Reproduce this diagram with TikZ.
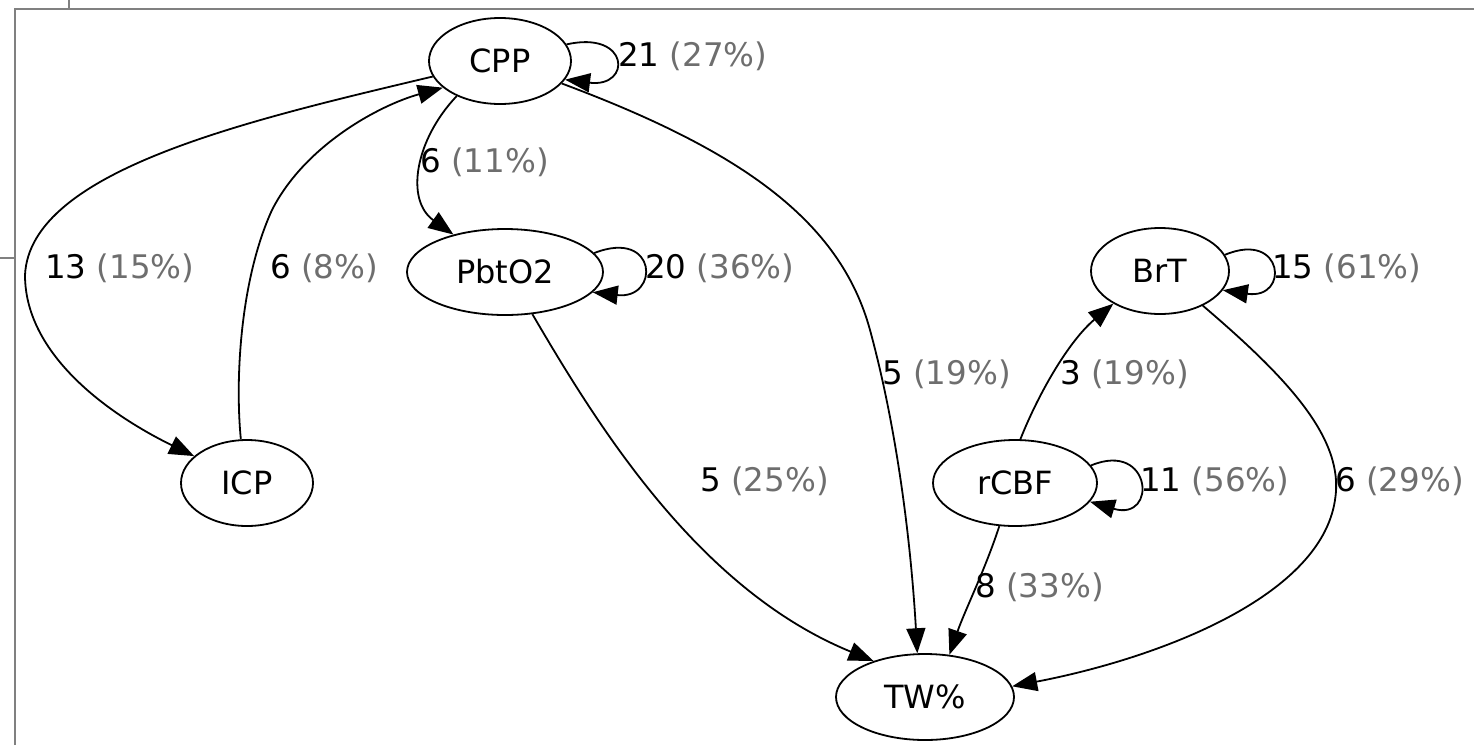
\documentclass[tikz,border=0pt]{standalone}
\usepackage{fontspec}
\setmainfont{DejaVu Sans}
\usetikzlibrary{shapes.geometric,arrows.meta}
\definecolor{pct}{HTML}{6E6E6E}
\definecolor{framegray}{HTML}{808080}
\tikzset{
  state/.style={draw, ellipse, line width=1.8pt, inner sep=0pt,
    minimum height=86pt, font=\fontsize{32}{38}\selectfont},
  edge/.style={line width=1.8pt, -{Triangle[length=25pt,width=19pt]}},
  lbl/.style={anchor=west, inner sep=0pt, font=\fontsize{32.5}{38}\selectfont},
  framestyle/.style={draw=framegray, line width=1.5pt}
}
\newcommand\cntlabel[2]{#1 \textcolor{pct}{(#2\%)}}
\begin{document}
\begin{tikzpicture}[x=1pt,y=-1pt]
\useasboundingbox (0,0) rectangle (1474,745);
% window frame
\draw[framestyle] (15,745) -- (15,9) -- (1474,9);
\draw[framestyle] (0,258) -- (15,258);
\draw[framestyle] (69,0) -- (69,9);

% states
\node[state, minimum width=142pt] (CPP)   at (500,61)  {CPP};
\node[state, minimum width=196pt] (PbtO2) at (505,272) {PbtO2};
\node[state, minimum width=132pt] (ICP)   at (247,483) {ICP};
\node[state, minimum width=138pt] (BrT)   at (1160,271) {BrT};
\node[state, minimum width=164pt] (rCBF)  at (1015,483) {rCBF};
\node[state, minimum width=178pt] (TW)    at (925,697) {TW\%};

% transitions
\draw[edge] (CPP.193) .. controls (250,120) and (30,170) .. (25,275)
  .. controls (25,360) and (120,420) .. (ICP.153);
\draw[edge] (ICP.98) .. controls (235,380) and (240,280) .. (272,210)
  .. controls (305,145) and (380,105) .. (CPP.205);
\draw[edge] (CPP.219) .. controls (415,140) and (405,200) .. (PbtO2.144);
\draw[edge] (CPP.14) .. controls (630,30) and (632,88) .. (CPP.-16);
\draw[edge] (CPP.-20) .. controls (740,150) and (840,220) .. (870,330)
  .. controls (900,440) and (912,560) .. (TW.100);
\draw[edge] (PbtO2.12) .. controls (658,228) and (660,300) .. (PbtO2.-13);
\draw[edge] (PbtO2.-57) .. controls (600,430) and (700,590) .. (TW.145);
\draw[edge] (rCBF.83) .. controls (1040,390) and (1070,340) .. (BrT.215);
\draw[edge] (BrT.14) .. controls (1284,230) and (1290,300) .. (BrT.-17);
\draw[edge] (BrT.-39) .. controls (1290,380) and (1345,440) .. (1335,500)
  .. controls (1320,600) and (1150,660) .. (TW.7);
\draw[edge] (rCBF.13) .. controls (1152,440) and (1158,522) .. (rCBF.-14);
\draw[edge] (rCBF.-110) .. controls (985,570) and (965,610) .. (TW.60);

% transition counts
\node[lbl] (l1)  at (45,268)   {\cntlabel{13}{15}};
\node[lbl] (l2)  at (270,268)  {\cntlabel{6}{8}};
\node[lbl] (l3)  at (420,162)  {\cntlabel{6}{11}};
\node[lbl] (l4)  at (618,56)   {\cntlabel{21}{27}};
\node[lbl] (l5)  at (645,268)  {\cntlabel{20}{36}};
\node[lbl] (l6)  at (882,374)  {\cntlabel{5}{19}};
\node[lbl] (l7)  at (700,481)  {\cntlabel{5}{25}};
\node[lbl] (l8)  at (1060,374) {\cntlabel{3}{19}};
\node[lbl] (l9)  at (1272,268) {\cntlabel{15}{61}};
\node[lbl] (l10) at (1140,481) {\cntlabel{11}{56}};
\node[lbl] (l11) at (1335,481) {\cntlabel{6}{29}};
\node[lbl] (l12) at (975,587)  {\cntlabel{8}{33}};
\end{tikzpicture}
\end{document}
